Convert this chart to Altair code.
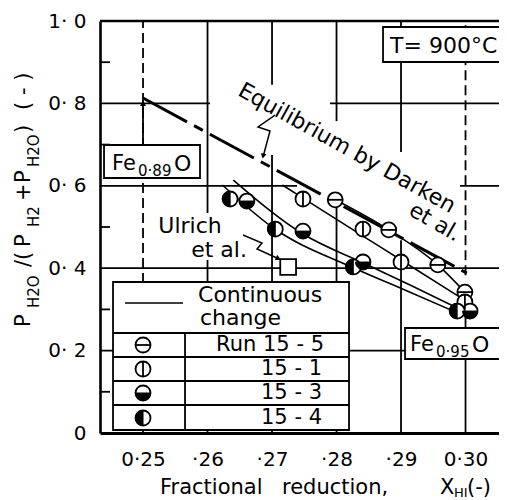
import altair as alt
import pandas as pd

FONT = "DejaVu Sans"

# ---------------- axis ranges / ticks ----------------
x_domain = [0.24333, 0.30519]
y_domain = [0.0, 1.0]
x_ticks = [0.25, 0.26, 0.27, 0.28, 0.29, 0.30]
y_ticks = [0.0, 0.2, 0.4, 0.6, 0.8, 1.0]
y_minor = [0.1, 0.3, 0.5, 0.7, 0.9]

# ---------------- measured points ----------------
run_names = ["15-5", "15-1", "15-3", "15-4"]
run_15_5_x = [0.2798, 0.2881, 0.2957, 0.2999]
run_15_5_y = [0.566, 0.493, 0.408, 0.342]
run_15_1_x = [0.2748, 0.2841, 0.2900, 0.2999]
run_15_1_y = [0.568, 0.495, 0.415, 0.318]
run_15_3_x = [0.2661, 0.2748, 0.2841, 0.3007]
run_15_3_y = [0.563, 0.490, 0.415, 0.296]
run_15_4_x = [0.2635, 0.2705, 0.2826, 0.2987]
run_15_4_y = [0.568, 0.495, 0.403, 0.296]

# continuous-change curves
curve_15_5_x = [0.2798, 0.2881, 0.2957, 0.2999]
curve_15_5_y = [0.566, 0.493, 0.408, 0.342]
curve_15_1_x = [0.2716, 0.2748, 0.2841, 0.2900, 0.2996]
curve_15_1_y = [0.602, 0.570, 0.478, 0.420, 0.325]
curve_15_3_x = [0.2640, 0.2748, 0.2841, 0.2914, 0.2988]
curve_15_3_y = [0.614, 0.483, 0.413, 0.359, 0.303]
curve_15_4_x = [0.2623, 0.2700, 0.2826, 0.2906, 0.2984]
curve_15_4_y = [0.602, 0.500, 0.401, 0.347, 0.294]

# equilibrium by Darken et al.
darken_x = [0.25, 0.3002]
darken_y = [0.813, 0.388]

# Ulrich et al.
ulrich_x = [0.2725]
ulrich_y = [0.403]

# legend rows (marker positions inside the legend box)
legend_marker_x = [0.25, 0.25, 0.25, 0.25]
legend_marker_y = [0.2136, 0.1553, 0.0971, 0.0364]
legend_labels = ["Run 15 - 5", "15 - 1", "15 - 3", "15 - 4"]

# ---------------- grid segments ----------------
vgrid_x = [0.26, 0.26, 0.27, 0.27, 0.28, 0.28, 0.29, 0.29, 0.30, 0.25]
vgrid_y1 = [0.534, 0.0, 0.845, 0.0, 0.757, 0.0, 0.682, 0.0, 0.0, 0.699]
vgrid_y2 = [1.0, 0.42, 1.0, 0.675, 1.0, 0.561, 1.0, 0.468, 0.284, 0.806]
vdash_x = [0.25, 0.30]
vdash_y1 = [0.0, 0.383]
vdash_y2 = [1.0, 1.0]
hgrid_y = [0.8, 0.8, 0.6, 0.6, 0.4, 0.2, 1.0]
hgrid_x1 = [x_domain[0], 0.27899, x_domain[0], 0.29915, x_domain[0], x_domain[0], x_domain[0]]
hgrid_x2 = [0.26039, x_domain[1], 0.27388, x_domain[1], x_domain[1], x_domain[1], x_domain[1]]
hgrid_w = [1.8, 1.8, 1.8, 1.8, 1.8, 1.8, 2.6]

# boxes: legend, Fe0.89O, Fe0.95O, T
box_x1 = [0.245349, 0.243953, 0.290620, 0.287209]
box_x2 = [0.281938, 0.258837, 0.305349, 0.305349]
box_y1 = [0.3665, 0.6990, 0.2549, 0.9854]
box_y2 = [0.0073, 0.6189, 0.1796, 0.9005]

# legend table lines
leg_h_y = [0.2427, 0.1845, 0.1262, 0.0680]
leg_v_x = [0.256512]
leg_sample_x = [0.247209, 0.256202]
leg_sample_y = [0.3155, 0.3155]

# ---------------- frames ----------------
pts = []
for name, xs, ys in [("15-5", run_15_5_x, run_15_5_y), ("15-1", run_15_1_x, run_15_1_y),
                     ("15-3", run_15_3_x, run_15_3_y), ("15-4", run_15_4_x, run_15_4_y)]:
    for a, b in zip(xs, ys):
        pts.append({"series": name, "x": a, "y": b})
for name, a, b in zip(run_names, legend_marker_x, legend_marker_y):
    pts.append({"series": name, "x": a, "y": b})
pts_df = pd.DataFrame(pts)

crv = []
for name, xs, ys in [("15-5", curve_15_5_x, curve_15_5_y), ("15-1", curve_15_1_x, curve_15_1_y),
                     ("15-3", curve_15_3_x, curve_15_3_y), ("15-4", curve_15_4_x, curve_15_4_y)]:
    for a, b in zip(xs, ys):
        crv.append({"series": name, "x": a, "y": b})
crv_df = pd.DataFrame(crv)

x_scale = alt.Scale(domain=x_domain, nice=False, zero=False)
y_scale = alt.Scale(domain=y_domain, nice=False, zero=False)

x_axis = alt.Axis(
    values=x_ticks,
    labelExpr="datum.value < 0.255 ? '0\u00b725' : (datum.value > 0.295 ? '0\u00b730' : '\u00b7' + format(datum.value * 100, '.0f'))",
    title=None, grid=False, ticks=False, domainWidth=3, domainColor="black",
    labelFont=FONT, labelFontSize=20, labelColor="black", labelPadding=16,
    labelFlush=False, labelOverlap=False,
)
y_axis = alt.Axis(
    values=y_ticks,
    labelExpr="datum.value == 0 ? '0\u00a0\u00a0' : replace(format(datum.value, '.1f'), '.', '\u00b7\u00a0')",
    title=None, grid=False, ticks=False, domainWidth=2.6, domainColor="black",
    labelFont=FONT, labelFontSize=20, labelColor="black", labelPadding=14,
    labelFlush=False, labelOverlap=False,
)


def X(f="x"):
    return alt.X(f, type="quantitative", scale=x_scale, axis=x_axis)


def Y(f="y"):
    return alt.Y(f, type="quantitative", scale=y_scale, axis=y_axis)


# grid
vgrid = alt.Chart(pd.DataFrame({"x": vgrid_x, "y": vgrid_y1, "y2": vgrid_y2})).mark_rule(
    color="black", strokeWidth=1.8).encode(x=X(), y=Y(), y2="y2")
vdash = alt.Chart(pd.DataFrame({"x": vdash_x, "y": vdash_y1, "y2": vdash_y2})).mark_rule(
    color="black", strokeWidth=1.8, strokeDash=[10, 5]).encode(x=X(), y=Y(), y2="y2")
hgrid = alt.Chart(pd.DataFrame({"x": hgrid_x1, "x2": hgrid_x2, "y": hgrid_y, "w": hgrid_w})).mark_rule(
    color="black").encode(x=X(), x2="x2", y=Y(), strokeWidth=alt.StrokeWidth("w:Q", scale=None))
minor = alt.Chart(pd.DataFrame({"x": [x_domain[0]] * 5, "x2": [x_domain[0] + 0.00155] * 5, "y": y_minor})).mark_rule(
    color="black", strokeWidth=1.8).encode(x=X(), x2="x2", y=Y())

# Darken line
darken = alt.Chart(pd.DataFrame({"x": darken_x, "y": darken_y})).mark_line(
    color="black", strokeWidth=3, strokeDash=[50, 8, 10, 8]).encode(x=X(), y=Y())

# curves
curves = alt.Chart(crv_df).mark_line(color="black", strokeWidth=1.6, interpolate="monotone").encode(
    x=X(), y=Y(), detail="series:N")

# arrows
arr_df = pd.DataFrame({
    "g": ["eq"] * 4 + ["ul"] * 4,
    "i": list(range(4)) * 2,
    "x": [0.270465, 0.267829, 0.269690, 0.268605, 0.265504, 0.268450, 0.267674, 0.271085],
    "y": [0.7718, 0.7427, 0.7330, 0.6699, 0.4806, 0.4612, 0.4466, 0.4223],
})
arrows = alt.Chart(arr_df).mark_line(color="black", strokeWidth=1.5).encode(
    x=X(), y=Y(), detail="g:N", order="i:Q")
heads = alt.Chart(pd.DataFrame({"x": [0.26862, 0.27098, 0.25], "y": [0.672, 0.4235, 0.800],
                                "a": [194, 114, 0]})).mark_point(
    shape="triangle-up", filled=True, color="black", size=35, opacity=1).encode(
    x=X(), y=Y(), angle=alt.Angle("a:Q", scale=None))

# boxes
boxes = alt.Chart(pd.DataFrame({"x": box_x1, "x2": box_x2, "y": box_y1, "y2": box_y2})).mark_rect(
    fill="white", stroke="black", strokeWidth=1.8).encode(x=X(), x2="x2", y=Y(), y2="y2")
leg_h = alt.Chart(pd.DataFrame({"x": [box_x1[0]] * 4, "x2": [box_x2[0]] * 4, "y": leg_h_y})).mark_rule(
    color="black", strokeWidth=1.8).encode(x=X(), x2="x2", y=Y())
leg_v = alt.Chart(pd.DataFrame({"x": leg_v_x, "y": [box_y2[0]], "y2": [leg_h_y[0]]})).mark_rule(
    color="black", strokeWidth=1.8).encode(x=X(), y=Y(), y2="y2")
leg_line = alt.Chart(pd.DataFrame({"x": leg_sample_x, "y": leg_sample_y})).mark_line(
    color="black", strokeWidth=1.6).encode(x=X(), y=Y())

# markers
circles = alt.Chart(pts_df).mark_point(shape="circle", filled=True, fill="white", stroke="black",
                                       strokeWidth=1.8, size=225, opacity=1).encode(x=X(), y=Y())
over_lines = alt.Chart(pts_df).transform_filter(
    alt.FieldOneOfPredicate(field="series", oneOf=["15-5", "15-1"])).mark_point(
    filled=False, stroke="black", strokeWidth=1.8, size=225, opacity=1).encode(
    x=X(), y=Y(),
    shape=alt.Shape("series:N", scale=alt.Scale(domain=["15-5", "15-1"], range=["M-1,0L1,0", "M0,-1L0,1"]),
                    legend=None))
over_halves = alt.Chart(pts_df).transform_filter(
    alt.FieldOneOfPredicate(field="series", oneOf=["15-3", "15-4"])).mark_point(
    filled=True, fill="black", stroke="black", strokeWidth=1, size=225, opacity=1).encode(
    x=X(), y=Y(),
    shape=alt.Shape("series:N", scale=alt.Scale(domain=["15-3", "15-4"],
                                                range=["M-1,0A1,1 0 0 0 1,0Z", "M0,-1A1,1 0 0 0 0,1Z"]),
                    legend=None))
ulrich = alt.Chart(pd.DataFrame({"x": ulrich_x, "y": ulrich_y})).mark_point(
    shape="square", filled=True, fill="white", stroke="black", strokeWidth=1.8, size=250, opacity=1).encode(
    x=X(), y=Y())

# texts
ytitle_df = pd.DataFrame({
    "t": ["P", "H2O", "/(", "P", "H2", "+", "P", "H2O", ")", "( - )"],
    "x": [0.23248, 0.23388, 0.23248, 0.23248, 0.23388, 0.23248, 0.23248, 0.23388, 0.23248, 0.23248],
    "y": [0.2573, 0.3034, 0.4029, 0.4515, 0.5000, 0.5631, 0.6068, 0.6456, 0.7282, 0.7840],
    "s": [21, 15, 21, 21, 15, 21, 21, 15, 21, 21],
})
ytitle = alt.Chart(ytitle_df).mark_text(angle=270, align="left", baseline="alphabetic", font=FONT,
                                        color="black").encode(
    x=X(), y=Y(), text="t:N", size=alt.Size("s:Q", scale=None))

left_df = pd.DataFrame({
    "t": ["Fractional", "reduction,", "X", "HI", "(-)",
          "Fe", "0\u00b789", "O", "Fe", "0\u00b795", "O", "T= 900\u00b0C"],
    "x": [0.252636, 0.271550, 0.296047, 0.298217, 0.300233,
          0.245194, 0.249225, 0.254806, 0.291395, 0.295426, 0.301008, 0.288295],
    "y": [-0.1481, -0.1481, -0.1481, -0.1553, -0.1481,
          0.6383, 0.6238, 0.6359, 0.1990, 0.1845, 0.1966, 0.9223],
    "s": [21, 21, 21, 13, 21, 21, 15, 22, 21, 15, 22, 22],
})
left_txt = alt.Chart(left_df).mark_text(align="left", baseline="alphabetic", font=FONT, color="black").encode(
    x=X(), y=Y(), text="t:N", size=alt.Size("s:Q", scale=None))

center_df = pd.DataFrame({
    "t": ["Ulrich", "et al.", "Equilibrium by Darken", "et al."],
    "x": [0.257287, 0.261783, 0.281628, 0.295271],
    "y": [0.5024, 0.4442, 0.6917, 0.5121],
    "s": [22, 22, 22, 22],
    "a": [0, 0, 29, 30],
})
center_txt = alt.Chart(center_df).mark_text(align="center", baseline="middle", font=FONT, color="black").encode(
    x=X(), y=Y(), text="t:N", size=alt.Size("s:Q", scale=None), angle=alt.Angle("a:Q", scale=None))

legl_df = pd.DataFrame({"t": ["Continuous", "change"], "x": [0.258527, 0.258837], "y": [0.3350, 0.2791]})
legl_txt = alt.Chart(legl_df).mark_text(align="left", baseline="middle", font=FONT, fontSize=22,
                                        color="black").encode(x=X(), y=Y(), text="t:N")
legr_df = pd.DataFrame({"t": legend_labels, "x": [0.278062, 0.277752, 0.277752, 0.277752],
                        "y": legend_marker_y})
legr_txt = alt.Chart(legr_df).mark_text(align="right", baseline="middle", font=FONT, fontSize=21,
                                        color="black").encode(x=X(), y=Y(), text="t:N")

chart = alt.layer(
    vgrid, vdash, hgrid, minor, darken, curves, arrows, heads,
    boxes, leg_h, leg_v, leg_line,
    circles, over_lines, over_halves, ulrich,
    ytitle, left_txt, center_txt, legl_txt, legr_txt,
).resolve_scale(
    shape="independent"
).properties(
    width=399, height=412,
    padding={"left": 92, "top": 13, "right": 0, "bottom": 67},
    autosize=alt.AutoSizeParams(type="none"),
    background="white",
).configure_view(stroke=None)

chart.save("out.html", embed_options={"renderer": "svg", "actions": False})
